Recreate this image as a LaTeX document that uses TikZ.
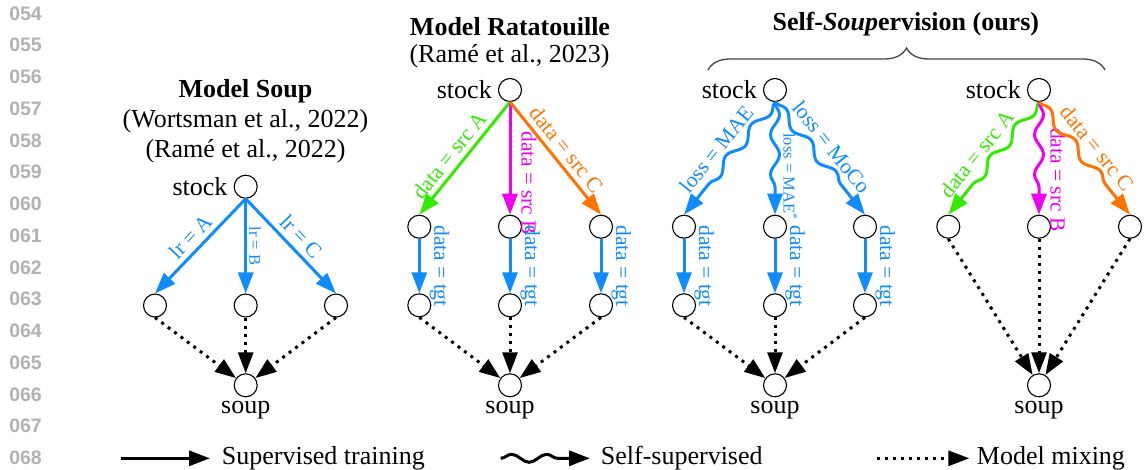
\documentclass[tikz,border=0pt]{standalone}
\usepackage{fontspec}
\setmainfont{Liberation Serif}
\newfontfamily\lnfont{Liberation Sans}
\usetikzlibrary{arrows.meta,decorations.pathmorphing,decorations.pathreplacing,positioning}
\definecolor{cblue}{RGB}{16,140,255}
\definecolor{cgreen}{RGB}{50,235,0}
\definecolor{cmag}{RGB}{240,0,240}
\definecolor{corange}{RGB}{255,115,0}
\definecolor{lngray}{RGB}{178,178,178}
\definecolor{bracegray}{RGB}{70,70,70}
\newcommand{\fmain}{\fontsize{26}{30}\selectfont}
\newcommand{\flab}{\fontsize{21.5}{25}\selectfont}
\newcommand{\fsml}{\fontsize{16.5}{19}\selectfont}
\newcommand{\fln}{\fontsize{19.5}{22}\selectfont}
\tikzset{
  model/.style={circle, draw, line width=1.1pt, minimum size=23pt, inner sep=0pt},
  tipend/.style={-{Triangle[length=21pt,width=15pt]}},
  suparrow/.style={tipend, line width=3pt},
  sslarrow/.style={tipend, line width=3pt, decorate, decoration={snake, amplitude=4.5pt, segment length=40pt, post length=24pt}},
  legssl/.style={tipend, line width=3pt, decorate, decoration={snake, amplitude=4pt, segment length=35pt, post length=22pt}},
  mixarrow/.style={tipend, line width=3pt, dash pattern=on 3pt off 5pt},
  slab/.style={font=\flab, sloped, above, inner sep=5pt},
  wlab/.style={font=\flab, sloped, above, inner sep=7pt},
  vlab/.style={xshift=#1, rotate=-90, anchor=base, inner sep=0pt},
  txt/.style={font=\fmain, inner sep=0pt},
  lnum/.style={font=\lnfont\fln\bfseries, text=lngray, anchor=east, inner sep=0pt},
}
\begin{document}
\begin{tikzpicture}[x=1pt,y=-1pt]
\fill[white] (0,0) rectangle (1144,469);
\useasboundingbox (0,0) rectangle (1144,469);

% line numbers
\foreach \n [count=\k from 0] in {054,055,056,057,058,059,060,061,062,063,064,065,066,067,068}
  \node[lnum] (ln\n) at (42,{13.3+31.75*\k}) {\n};

% ---------- titles ----------
\node[txt, font=\fmain\bfseries] (t1) at (245.5,90.8) {Model Soup};
\node[txt] (t1a) at (245.5,120.8) {(Wortsman et al., 2022)};
\node[txt] (t1b) at (245.5,151.7) {(Ramé et al., 2022)};
\node[txt, font=\fmain\bfseries] (t2) at (510,26.3) {Model Ratatouille};
\node[txt] (t2a) at (509.5,55.8) {(Ramé et al., 2023)};
\node[txt, font=\fmain\bfseries] (t3) at (905.8,24.2) {Self-\textit{Soup}ervision (ours)};
\coordinate (br1) at (708,70);
\coordinate (br2) at (1105,70);
\draw[bracegray, line width=1.3pt, decorate, decoration={brace, amplitude=22pt}] (br1) -- (br2);

% ---------- panel 1 ----------
\node[model] (st1) at (245.7,186.7) {};
\node[model] (a1) at (155,305.5) {};
\node[model] (b1) at (245.7,305.5) {};
\node[model] (c1) at (336,305.5) {};
\node[model] (sp1) at (245.7,385.3) {};
\node[txt, left=6pt of st1] (st1l) {stock};
\node[txt, below=3.5pt of sp1] (sp1l) {soup};
\draw[suparrow, cblue] (st1.south) -- node[slab, pos=.5] {lr = A} (a1.north);
\draw[suparrow, cblue] (st1.south) -- node[vlab=3.6pt, font=\fsml, pos=.5] {lr = B} (b1.north);
\draw[suparrow, cblue] (st1.south) -- node[slab, pos=.5] {lr = C} (c1.north);
\draw[mixarrow] (a1.south) -- (sp1);
\draw[mixarrow] (b1.south) -- (sp1);
\draw[mixarrow] (c1.south) -- (sp1);

% ---------- panel 2 ----------
\node[model] (st2) at (510,90) {};
\node[model] (a2) at (419.3,226.7) {};
\node[model] (b2) at (510,226.7) {};
\node[model] (c2) at (601,226.7) {};
\node[model] (a2t) at (419.3,305.3) {};
\node[model] (b2t) at (510,305.3) {};
\node[model] (c2t) at (601,305.3) {};
\node[model] (sp2) at (510,385.3) {};
\node[txt, left=6pt of st2] (st2l) {stock};
\node[txt, below=3.5pt of sp2] (sp2l) {soup};
\draw[suparrow, cgreen] (st2.south) -- node[slab, pos=.55] {data = src A} (a2.north);
\draw[suparrow, cmag] (st2.south) -- node[vlab=11.7pt, font=\flab, pos=.72] {data = src B} (b2.north);
\draw[suparrow, corange] (st2.south) -- node[slab, pos=.5] {data = src C} (c2.north);
\draw[suparrow, cblue] (a2.south) -- node[vlab=15pt, font=\flab, pos=.5] {data = tgt} (a2t.north);
\draw[suparrow, cblue] (b2.south) -- node[vlab=15pt, font=\flab, pos=.5] {data = tgt} (b2t.north);
\draw[suparrow, cblue] (c2.south) -- node[vlab=15pt, font=\flab, pos=.5] {data = tgt} (c2t.north);
\draw[mixarrow] (a2t.south) -- (sp2);
\draw[mixarrow] (b2t.south) -- (sp2);
\draw[mixarrow] (c2t.south) -- (sp2);

% ---------- panel 3 ----------
\node[model] (st3) at (775,90) {};
\node[model] (a3) at (684,226.7) {};
\node[model] (b3) at (775,226.7) {};
\node[model] (c3) at (865,226.7) {};
\node[model] (a3t) at (684,305.3) {};
\node[model] (b3t) at (775,305.3) {};
\node[model] (c3t) at (865,305.3) {};
\node[model] (sp3) at (775,385.3) {};
\node[txt, left=6pt of st3] (st3l) {stock};
\node[txt, below=3.5pt of sp3] (sp3l) {soup};
\draw[sslarrow, cblue] (st3.south) -- node[wlab, pos=.51] {loss = MAE} (a3.north);
\draw[sslarrow, cblue] (st3.south) -- node[vlab=8.5pt, font=\fsml, pos=.66] {loss = MAE\textsuperscript{*}} (b3.north);
\draw[sslarrow, cblue] (st3.south) -- node[wlab, pos=.49] {loss = MoCo} (c3.north);
\draw[suparrow, cblue] (a3.south) -- node[vlab=15pt, font=\flab, pos=.5] {data = tgt} (a3t.north);
\draw[suparrow, cblue] (b3.south) -- node[vlab=15pt, font=\flab, pos=.5] {data = tgt} (b3t.north);
\draw[suparrow, cblue] (c3.south) -- node[vlab=15pt, font=\flab, pos=.5] {data = tgt} (c3t.north);
\draw[mixarrow] (a3t.south) -- (sp3);
\draw[mixarrow] (b3t.south) -- (sp3);
\draw[mixarrow] (c3t.south) -- (sp3);

% ---------- panel 4 ----------
\node[model] (st4) at (1039,90) {};
\node[model] (a4) at (948.3,226.7) {};
\node[model] (b4) at (1039,226.7) {};
\node[model] (c4) at (1130,226.7) {};
\node[model] (sp4) at (1039,385.3) {};
\node[txt, left=6pt of st4] (st4l) {stock};
\node[txt, below=3.5pt of sp4] (sp4l) {soup};
\draw[sslarrow, cgreen] (st4.south) -- node[wlab, pos=.55] {data = src A} (a4.north);
\draw[sslarrow, cmag] (st4.south) -- node[vlab=11.7pt, font=\flab, pos=.69] {data = src B} (b4.north);
\draw[sslarrow, corange] (st4.south) -- node[wlab, pos=.5] {data = src C} (c4.north);
\draw[mixarrow] (a4.south) -- (sp4);
\draw[mixarrow] (b4.south) -- (sp4);
\draw[mixarrow] (c4.south) -- (sp4);

% ---------- legend ----------
\coordinate (lg1a) at (120.7,458.3);
\coordinate (lg1b) at (210,458.3);
\draw[suparrow] (lg1a) -- (lg1b);
\node[txt, anchor=base west] (lg1t) at (221.7,464) {Supervised training};
\coordinate (lg2a) at (500.7,458.3);
\coordinate (lg2b) at (590,458.3);
\draw[legssl] (lg2a) -- (lg2b);
\node[txt, anchor=base west] (lg2t) at (600.7,464) {Self-supervised};
\coordinate (lg3a) at (876.7,458.3);
\coordinate (lg3b) at (969.3,458.3);
\draw[mixarrow] (lg3a) -- (lg3b);
\node[txt, anchor=base west] (lg3t) at (976.7,464) {Model mixing};
\end{tikzpicture}
\end{document}
